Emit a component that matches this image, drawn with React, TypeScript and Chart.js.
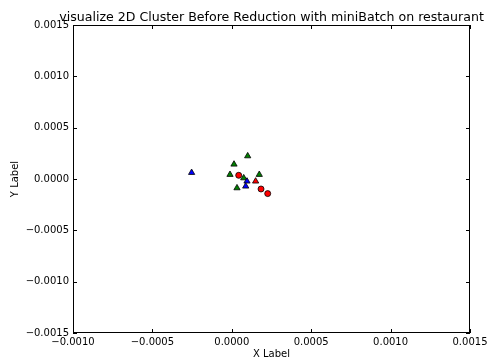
import React, { useEffect, useRef } from "react";
import { Chart, registerables } from "chart.js";

Chart.register(...registerables);

const TITLE = "visualize 2D Cluster Before Reduction with miniBatch on restaurant";
const X_LABEL = "X Label";
const Y_LABEL = "Y Label";

const X_MIN = -0.001;
const X_MAX = 0.0015;
const Y_MIN = -0.0015;
const Y_MAX = 0.0015;
const TICK_STEP = 0.0005;

// blue triangles
const blueX = [-0.000253, 0.0000957, 0.0000875];
const blueY = [0.000062, -0.000022, -0.000071];
// green triangles
const greenX = [0.0001, 0.0000139, -0.0000113, 0.000075, 0.000173, 0.0000327];
const greenY = [0.000224, 0.000143, 0.000043, 0.0000097, 0.000043, -0.0000876];
// red triangles
const redTriX = [0.00015];
const redTriY = [-0.000022];
// red circles
const redCircX = [0.0000435, 0.000184, 0.000226];
const redCircY = [0.000036, -0.0000974, -0.000142];

const FONT = "'DejaVu Sans', sans-serif";

function pts(xs: number[], ys: number[]) {
  return xs.map((x, i) => ({ x, y: ys[i] }));
}

const fmt = (v: number) => {
  const s = Math.abs(v) < 1e-12 ? "0.0000" : v.toFixed(4);
  return s.replace("-", "\u2212");
};

const framePlugin = {
  id: "frame",
  afterDraw(chart: any) {
    const { ctx, chartArea } = chart;
    const { left, right, top, bottom } = chartArea;
    const xs = chart.scales.x;
    const ys = chart.scales.y;
    ctx.save();
    ctx.strokeStyle = "#000";
    ctx.lineWidth = 1;
    ctx.strokeRect(left + 0.5, top + 0.5, right - left - 1, bottom - top - 1);
    const tl = 4;
    ctx.beginPath();
    xs.ticks.forEach((t: any) => {
      const px = Math.round(xs.getPixelForValue(t.value)) + 0.5;
      ctx.moveTo(px, bottom);
      ctx.lineTo(px, bottom - tl);
      ctx.moveTo(px, top);
      ctx.lineTo(px, top + tl);
    });
    ys.ticks.forEach((t: any) => {
      const py = Math.round(ys.getPixelForValue(t.value)) + 0.5;
      ctx.moveTo(left, py);
      ctx.lineTo(left + tl, py);
      ctx.moveTo(right, py);
      ctx.lineTo(right - tl, py);
    });
    ctx.stroke();
    // title
    ctx.fillStyle = "#000";
    ctx.font = `12.6px ${FONT}`;
    ctx.textAlign = "center";
    ctx.textBaseline = "alphabetic";
    ctx.fillText(TITLE, (left + right) / 2, top - 4);
    ctx.restore();
  },
};

export default function App() {
  const ref = useRef<HTMLCanvasElement | null>(null);
  useEffect(() => {
    document.body.style.margin = "0";
    const canvas = ref.current!;
    const common = { borderColor: "#000", borderWidth: 0.8, showLine: false };
    const chart = new Chart(canvas, {
      type: "scatter",
      data: {
        datasets: [
          { ...common, label: "blue", data: pts(blueX, blueY), backgroundColor: "#0000ff", pointStyle: "triangle", pointRadius: 3.6 },
          { ...common, label: "green", data: pts(greenX, greenY), backgroundColor: "#008000", pointStyle: "triangle", pointRadius: 3.6 },
          { ...common, label: "redtri", data: pts(redTriX, redTriY), backgroundColor: "#ff0000", pointStyle: "triangle", pointRadius: 3.6 },
          { ...common, label: "redcirc", data: pts(redCircX, redCircY), backgroundColor: "#ff0000", pointStyle: "circle", pointRadius: 3 },
        ],
      },
      options: {
        animation: false,
        responsive: false,
        maintainAspectRatio: false,
        layout: { padding: { top: 25, right: 18, left: 0, bottom: 0 } },
        plugins: {
          legend: { display: false },
          title: { display: false },
          tooltip: { enabled: false },
        },
        scales: {
          x: {
            type: "linear",
            min: X_MIN,
            max: X_MAX,
            afterFit: (s: any) => { s.height = 29; s.paddingLeft = 0; s.paddingRight = 0; },
            afterBuildTicks: (s: any) => {
              const t = [];
              for (let v = X_MIN; v <= X_MAX + 1e-9; v += TICK_STEP) t.push({ value: Number(v.toFixed(6)) });
              s.ticks = t;
            },
            grid: { display: false, drawTicks: false },
            border: { display: false },
            ticks: {
              padding: 3,
              color: "#000",
              font: { family: FONT, size: 10 },
              maxRotation: 0,
              autoSkip: false,
              callback: (v: any) => fmt(Number(v)),
            },
            title: {
              display: true,
              text: X_LABEL,
              color: "#000",
              font: { family: FONT, size: 10 },
              padding: { top: 0, bottom: 2 },
            },
          },
          y: {
            type: "linear",
            min: Y_MIN,
            max: Y_MAX,
            afterFit: (s: any) => { s.width = 73; s.paddingTop = 0; s.paddingBottom = 0; },
            afterBuildTicks: (s: any) => {
              const t = [];
              for (let v = Y_MIN; v <= Y_MAX + 1e-9; v += TICK_STEP) t.push({ value: Number(v.toFixed(6)) });
              s.ticks = t;
            },
            grid: { display: false, drawTicks: false },
            border: { display: false },
            ticks: {
              padding: 4,
              color: "#000",
              font: { family: FONT, size: 10 },
              autoSkip: false,
              callback: (v: any) => fmt(Number(v)),
            },
            title: {
              display: true,
              text: Y_LABEL,
              color: "#000",
              font: { family: FONT, size: 10 },
              padding: { top: 9.5, bottom: 0 },
            },
          },
        },
      },
      plugins: [framePlugin],
    });
    return () => chart.destroy();
  }, []);
  return (
    <div style={{ width: 488, height: 362, background: "#fff" }}>
      <canvas ref={ref} width={488} height={362} style={{ display: "block", width: 488, height: 362 }} />
    </div>
  );
}
